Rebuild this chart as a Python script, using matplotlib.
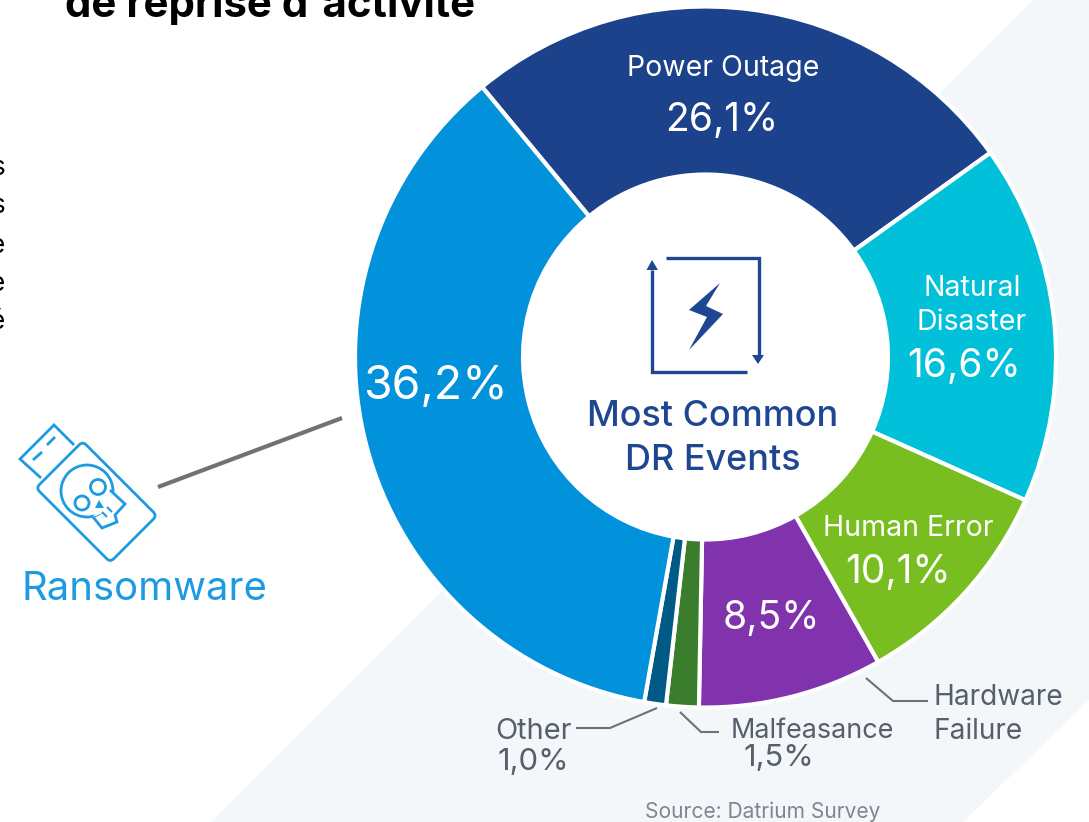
import matplotlib
matplotlib.use("Agg")
import matplotlib.pyplot as plt
from matplotlib.patches import Polygon, Circle, FancyBboxPatch
from matplotlib.transforms import Affine2D

W = 1089
H = 822

labels = ["Power Outage", "Natural Disaster", "Human Error", "Hardware Failure",
          "Malfeasance", "Other", "Ransomware"]
values = [26.1, 16.6, 10.1, 8.5, 1.5, 1.0, 36.2]
colors = ["#1B428A", "#00C1D9", "#78BE20", "#8033AD", "#3A7D2C", "#005A86", "#0291DB"]

navy = "#1F4690"
sky = "#1E9BE0"
grey = "#565F6B"

plt.rcParams["font.family"] = ["Inter", "DejaVu Sans"]


def pct(name):
    return f"{values[labels.index(name)]:.1f}%".replace(".", ",")


# y counted from the top of the picture, like the reference
def yy(y):
    return H - y


def flip(pts):
    return [(x, yy(y)) for x, y in pts]


def line(pts, color, lw):
    ax.plot([p[0] for p in pts], [yy(p[1]) for p in pts], color=color, lw=lw,
            solid_capstyle="butt", solid_joinstyle="miter", zorder=3)


def txt(x, y, s, size, color, ha="center", weight="normal"):
    ax.text(x, yy(y + 3), s, fontsize=size * 0.72, color=color, ha=ha, va="center",
            fontweight=weight, zorder=4)


fig = plt.figure(figsize=(W / 100, H / 100), dpi=100)
ax = fig.add_axes([0, 0, 1, 1])

# pale band behind the donut
band = [(1033, 0), (W, 0), (W, 700), (963, H), (211, H)]
ax.add_patch(Polygon(flip(band), closed=True, fc="#F4F7FA", ec="none", zorder=0))

ax.pie(values, colors=colors, startangle=129.6, counterclock=False,
       center=(705.5, yy(357)), radius=350.5,
       wedgeprops=dict(width=168, edgecolor="white", linewidth=3))
ax.add_patch(Circle((705.5, yy(357)), 182, fc="white", ec="none", zorder=0.5))
ax.set_xlim(0, W)
ax.set_ylim(0, H)
ax.set_aspect("auto")
ax.set_axis_off()

# text inside the slices
txt(723, 65, "Power Outage", 28.5, "white")
txt(722, 118, pct("Power Outage"), 39, "white")
txt(972, 286, "Natural", 28.5, "white")
txt(972, 320, "Disaster", 28.5, "white")
txt(964, 364, pct("Natural Disaster"), 39, "white")
txt(908, 525, "Human Error", 28.5, "white")
txt(898, 569, pct("Human Error"), 39, "white")
txt(771, 615, pct("Hardware Failure"), 39, "white")
txt(435, 384, pct("Ransomware"), 46.5, "white")

# centre
txt(713, 414, "Most Common", 36, navy, weight="medium")
txt(713, 457, "DR Events", 36, navy, weight="medium")
line([(666, 258), (758.5, 258), (758.5, 356)], navy, 2.4)
line([(747, 372), (652, 372), (652, 270)], navy, 2.4)
ax.add_patch(Polygon(flip([(752, 355), (764, 355), (758, 364)]), fc=navy, ec="none", zorder=3))
ax.add_patch(Polygon(flip([(646.5, 270), (658, 270), (652, 260)]), fc=navy, ec="none", zorder=3))
bolt = [(720, 283), (689, 310), (707, 317), (689, 350), (723, 314), (706, 306)]
ax.add_patch(Polygon(flip(bolt), fc=navy, ec="none", zorder=3))

# outside labels
txt(933, 694, "Hardware", 28, grey, ha="left")
txt(933, 728, "Failure", 28, grey, ha="left")
line([(866, 678), (893, 701), (928, 701)], "#6B7178", 1.5)
txt(731, 728, "Malfeasance", 27, grey, ha="left")
txt(779, 755, pct("Malfeasance"), 31, grey)
line([(680, 712), (701, 732), (719, 732)], "#6B7178", 1.5)
txt(495, 728, "Other", 29, grey, ha="left")
txt(533, 759, pct("Other"), 31, grey)
line([(657, 708), (610, 728), (576, 728)], "#6B7178", 1.5)
txt(763, 809, "Source: Datrium Survey", 21, "#7F8691")

# ransomware usb key
line([(158, 487), (342, 418)], "#727272", 3)
txt(144, 587, "Ransomware", 40, sky)
body = FancyBboxPatch((0, 0), 105, 66, boxstyle="round,pad=0,rounding_size=5", fc="none", ec=sky, lw=2,
                      transform=Affine2D().rotate_deg(-45).translate(36, yy(488)) + ax.transData, zorder=3)
ax.add_patch(body)
line([(41, 478), (20, 459), (54, 425), (74, 445)], sky, 2)
line([(33, 460), (42, 452)], sky, 2)
line([(47, 445), (55, 437)], sky, 2)
ax.add_patch(Circle((87, yy(491)), 26, fc="white", ec=sky, lw=2, zorder=3))
ax.add_patch(Polygon(flip([(93, 517), (125, 504), (110, 490)]), fc="white", ec="none", zorder=3))
line([(110, 490), (125, 504), (115, 515), (117, 522), (102, 528), (93, 517)], sky, 2)
ax.add_patch(Circle((98, yy(487)), 7.5, fc="white", ec=sky, lw=2, zorder=3))
ax.add_patch(Circle((82, yy(503)), 7, fc="white", ec=sky, lw=2, zorder=3))
ax.add_patch(Polygon(flip([(99, 500), (104, 508), (95, 508)]), fc=sky, ec="none", zorder=3))
line([(107, 507), (112, 512)], sky, 1.5)
line([(102, 512), (107, 517)], sky, 1.5)

# cut off text from the slide behind
ax.text(65, yy(17), "de reprise d'activité", fontsize=42 * 0.72, color="black", ha="left",
        va="baseline", fontweight="bold", zorder=4)
for y, s in zip([165, 203, 243, 281, 319], ["s", "s", "e", "e", "é"]):
    txt(5, y, s, 26, "black", ha="right")

fig.savefig("out.png", dpi=100)
